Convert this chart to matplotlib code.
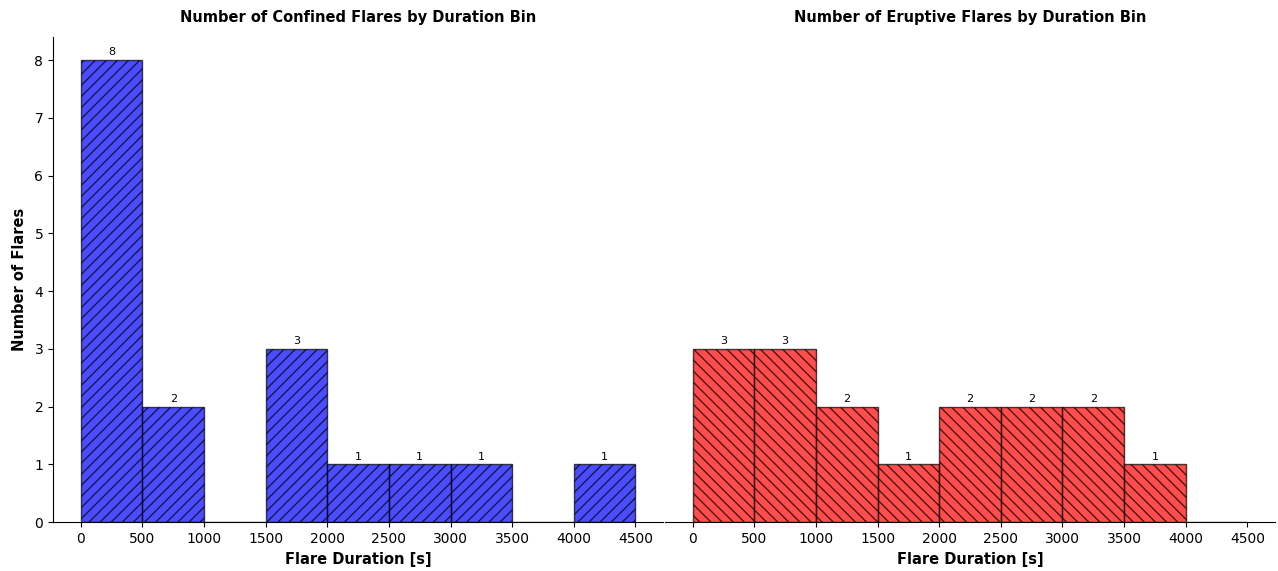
import matplotlib.pyplot as plt
import numpy as np

# Flare counts per 500 s duration bin
bin_edges = [0, 500, 1000, 1500, 2000, 2500, 3000, 3500, 4000, 4500]
confined_counts = [8, 2, 0, 3, 1, 1, 1, 0, 1]
eruptive_counts = [3, 3, 2, 1, 2, 2, 2, 1, 0]
xticks = [0, 500, 1000, 1500, 2000, 2500, 3000, 3500, 4000, 4500]


def draw_bins(ax, counts, color, hatch, title):
    left = np.array(bin_edges[:-1])
    width = np.diff(bin_edges)
    bars = ax.bar(left, counts, width=width, align='edge', color=color,
                  edgecolor='black', hatch=hatch, alpha=0.7)
    labels = [str(c) if c > 0 else '' for c in counts]
    ax.bar_label(bars, labels=labels, padding=2, fontsize=8)
    ax.set_title(title, fontsize=10.5, fontweight='bold', pad=11)
    ax.set_xlabel('Flare Duration [s]', fontsize=10.5, fontweight='bold', labelpad=4.5)
    ax.set_xticks(xticks)
    ax.spines['top'].set_visible(False)
    ax.spines['right'].set_visible(False)


fig, (ax1, ax2) = plt.subplots(1, 2, figsize=(12.78, 5.71), dpi=100, sharey=True)
fig.subplots_adjust(left=0.0415, right=0.9977, top=0.935, bottom=0.0858, wspace=0.003)

draw_bins(ax1, confined_counts, 'blue', '///', 'Number of Confined Flares by Duration Bin')
draw_bins(ax2, eruptive_counts, 'red', '\\\\\\', 'Number of Eruptive Flares by Duration Bin')

ax1.set_ylabel('Number of Flares', fontsize=10.5, fontweight='bold', labelpad=5)
ax1.set_xlim(-225, 4725)
ax2.set_xlim(-225, 4725)
ax2.spines['left'].set_visible(False)
ax2.tick_params(axis='y', left=False, labelleft=False)

fig.savefig('out.png', dpi=100)
